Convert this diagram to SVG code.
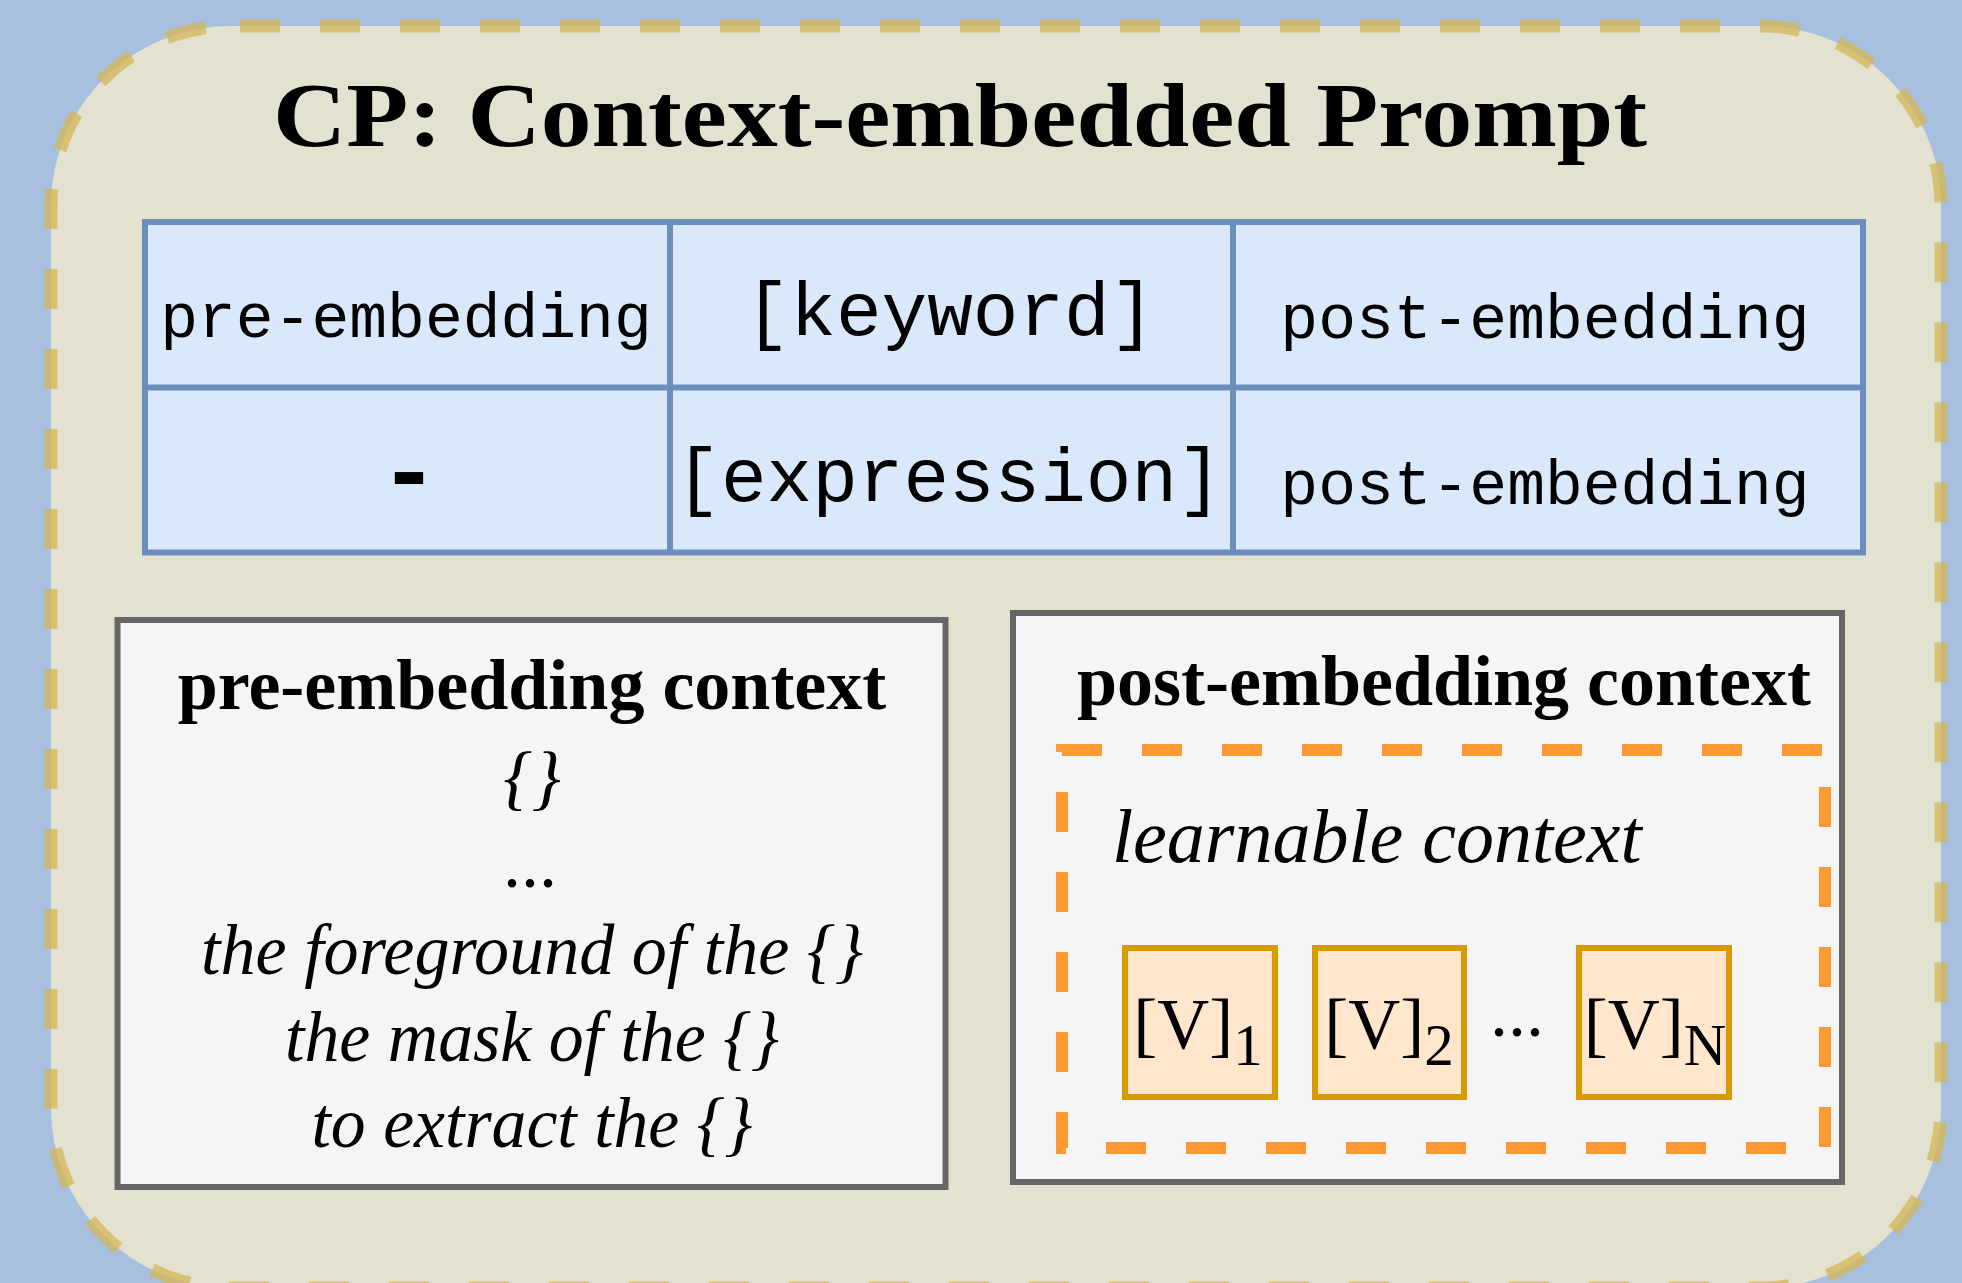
<svg xmlns="http://www.w3.org/2000/svg" width="1962" height="1283" viewBox="0 0 1962 1283">
  <style>
    .serif { font-family: "Liberation Serif", "Times New Roman", serif; fill: #000; }
    .bold { font-weight: bold; }
    .ital { font-style: italic; }
    .mono { font-family: "Liberation Mono", "Courier New", monospace; fill: #000; }
    .cell { fill: #dae8fc; stroke: #6c8ebf; stroke-width: 6; }
    .grid { stroke: #6c8ebf; stroke-width: 6; fill: none; }
    .ctxbox { fill: #f5f5f5; stroke: #666666; stroke-width: 6; }
    .vbox { fill: #ffe6cc; stroke: #d79b00; stroke-width: 6; }
  </style>
  <rect x="0" y="0" width="1962" height="1283" fill="#a7c0df"/>

  <g id="container">
    <rect x="51" y="26" width="1890" height="1262" rx="180" ry="180" fill="#e3e2d0" stroke="#d6b656" stroke-opacity="0.75" stroke-width="13" stroke-dasharray="40 40" stroke-dashoffset="71"/>
    <text class="serif bold" x="960" y="146" font-size="92" text-anchor="middle" textLength="1374" lengthAdjust="spacingAndGlyphs">CP: Context-embedded Prompt</text>
  </g>

  <g id="table">
    <rect class="cell" x="145" y="222" width="1718" height="330.5"/>
    <line class="grid" x1="145" y1="387.5" x2="1863" y2="387.5"/>
    <line class="grid" x1="670" y1="222" x2="670" y2="552.5"/>
    <line class="grid" x1="1233" y1="222" x2="1233" y2="552.5"/>
    <text class="mono" x="406" y="337" font-size="63" text-anchor="middle">pre-embedding</text>
    <text class="mono" x="950" y="335" font-size="76" text-anchor="middle">[keyword]</text>
    <text class="mono" x="1545" y="338" font-size="63" text-anchor="middle">post-embedding</text>
    <text class="mono bold" x="409" y="504" font-size="100" text-anchor="middle">-</text>
    <text class="mono" x="949" y="501" font-size="76" text-anchor="middle">[expression]</text>
    <text class="mono" x="1545" y="504" font-size="63" text-anchor="middle">post-embedding</text>
  </g>

  <g id="pre-context">
    <rect class="ctxbox" x="117.5" y="620" width="828" height="567"/>
    <text class="serif bold" x="532" y="709" font-size="72" text-anchor="middle">pre-embedding context</text>
    <text class="serif ital" x="532" y="801" font-size="72" text-anchor="middle">{}</text>
    <text class="serif" x="530" y="887" font-size="72" text-anchor="middle">...</text>
    <text class="serif ital" x="532" y="974" font-size="71" text-anchor="middle" textLength="662" lengthAdjust="spacingAndGlyphs">the foreground of the {}</text>
    <text class="serif ital" x="532" y="1061" font-size="71" text-anchor="middle" textLength="494" lengthAdjust="spacingAndGlyphs">the mask of the {}</text>
    <text class="serif ital" x="532" y="1147" font-size="71" text-anchor="middle" textLength="441" lengthAdjust="spacingAndGlyphs">to extract the {}</text>
  </g>

  <g id="post-context">
    <rect class="ctxbox" x="1013" y="613" width="829" height="569"/>
    <text class="serif bold" x="1444" y="705" font-size="72" text-anchor="middle">post-embedding context</text>
  </g>

  <g id="learnable-context">
    <rect x="1062" y="750" width="763" height="398" fill="none" stroke="#ff9933" stroke-width="12" stroke-dasharray="40 40"/>
    <text class="serif ital" x="1112" y="862" font-size="76">learnable context</text>
  </g>

  <g id="v1">
    <rect class="vbox" x="1125" y="948" width="150" height="149"/>
    <text class="serif" x="1198" y="1048" font-size="72" text-anchor="middle">[V]<tspan font-size="59" dy="17">1</tspan></text>
  </g>
  <g id="v2">
    <rect class="vbox" x="1315" y="948" width="149" height="149"/>
    <text class="serif" x="1389" y="1048" font-size="72" text-anchor="middle">[V]<tspan font-size="59" dy="17">2</tspan></text>
  </g>
  <text class="serif" x="1517" y="1036" font-size="72" text-anchor="middle">...</text>
  <g id="vN">
    <rect class="vbox" x="1579" y="948" width="150" height="149"/>
    <text class="serif" x="1655" y="1048" font-size="72" text-anchor="middle">[V]<tspan font-size="59" dy="17">N</tspan></text>
  </g>

  <g id="connectors"/>
</svg>
